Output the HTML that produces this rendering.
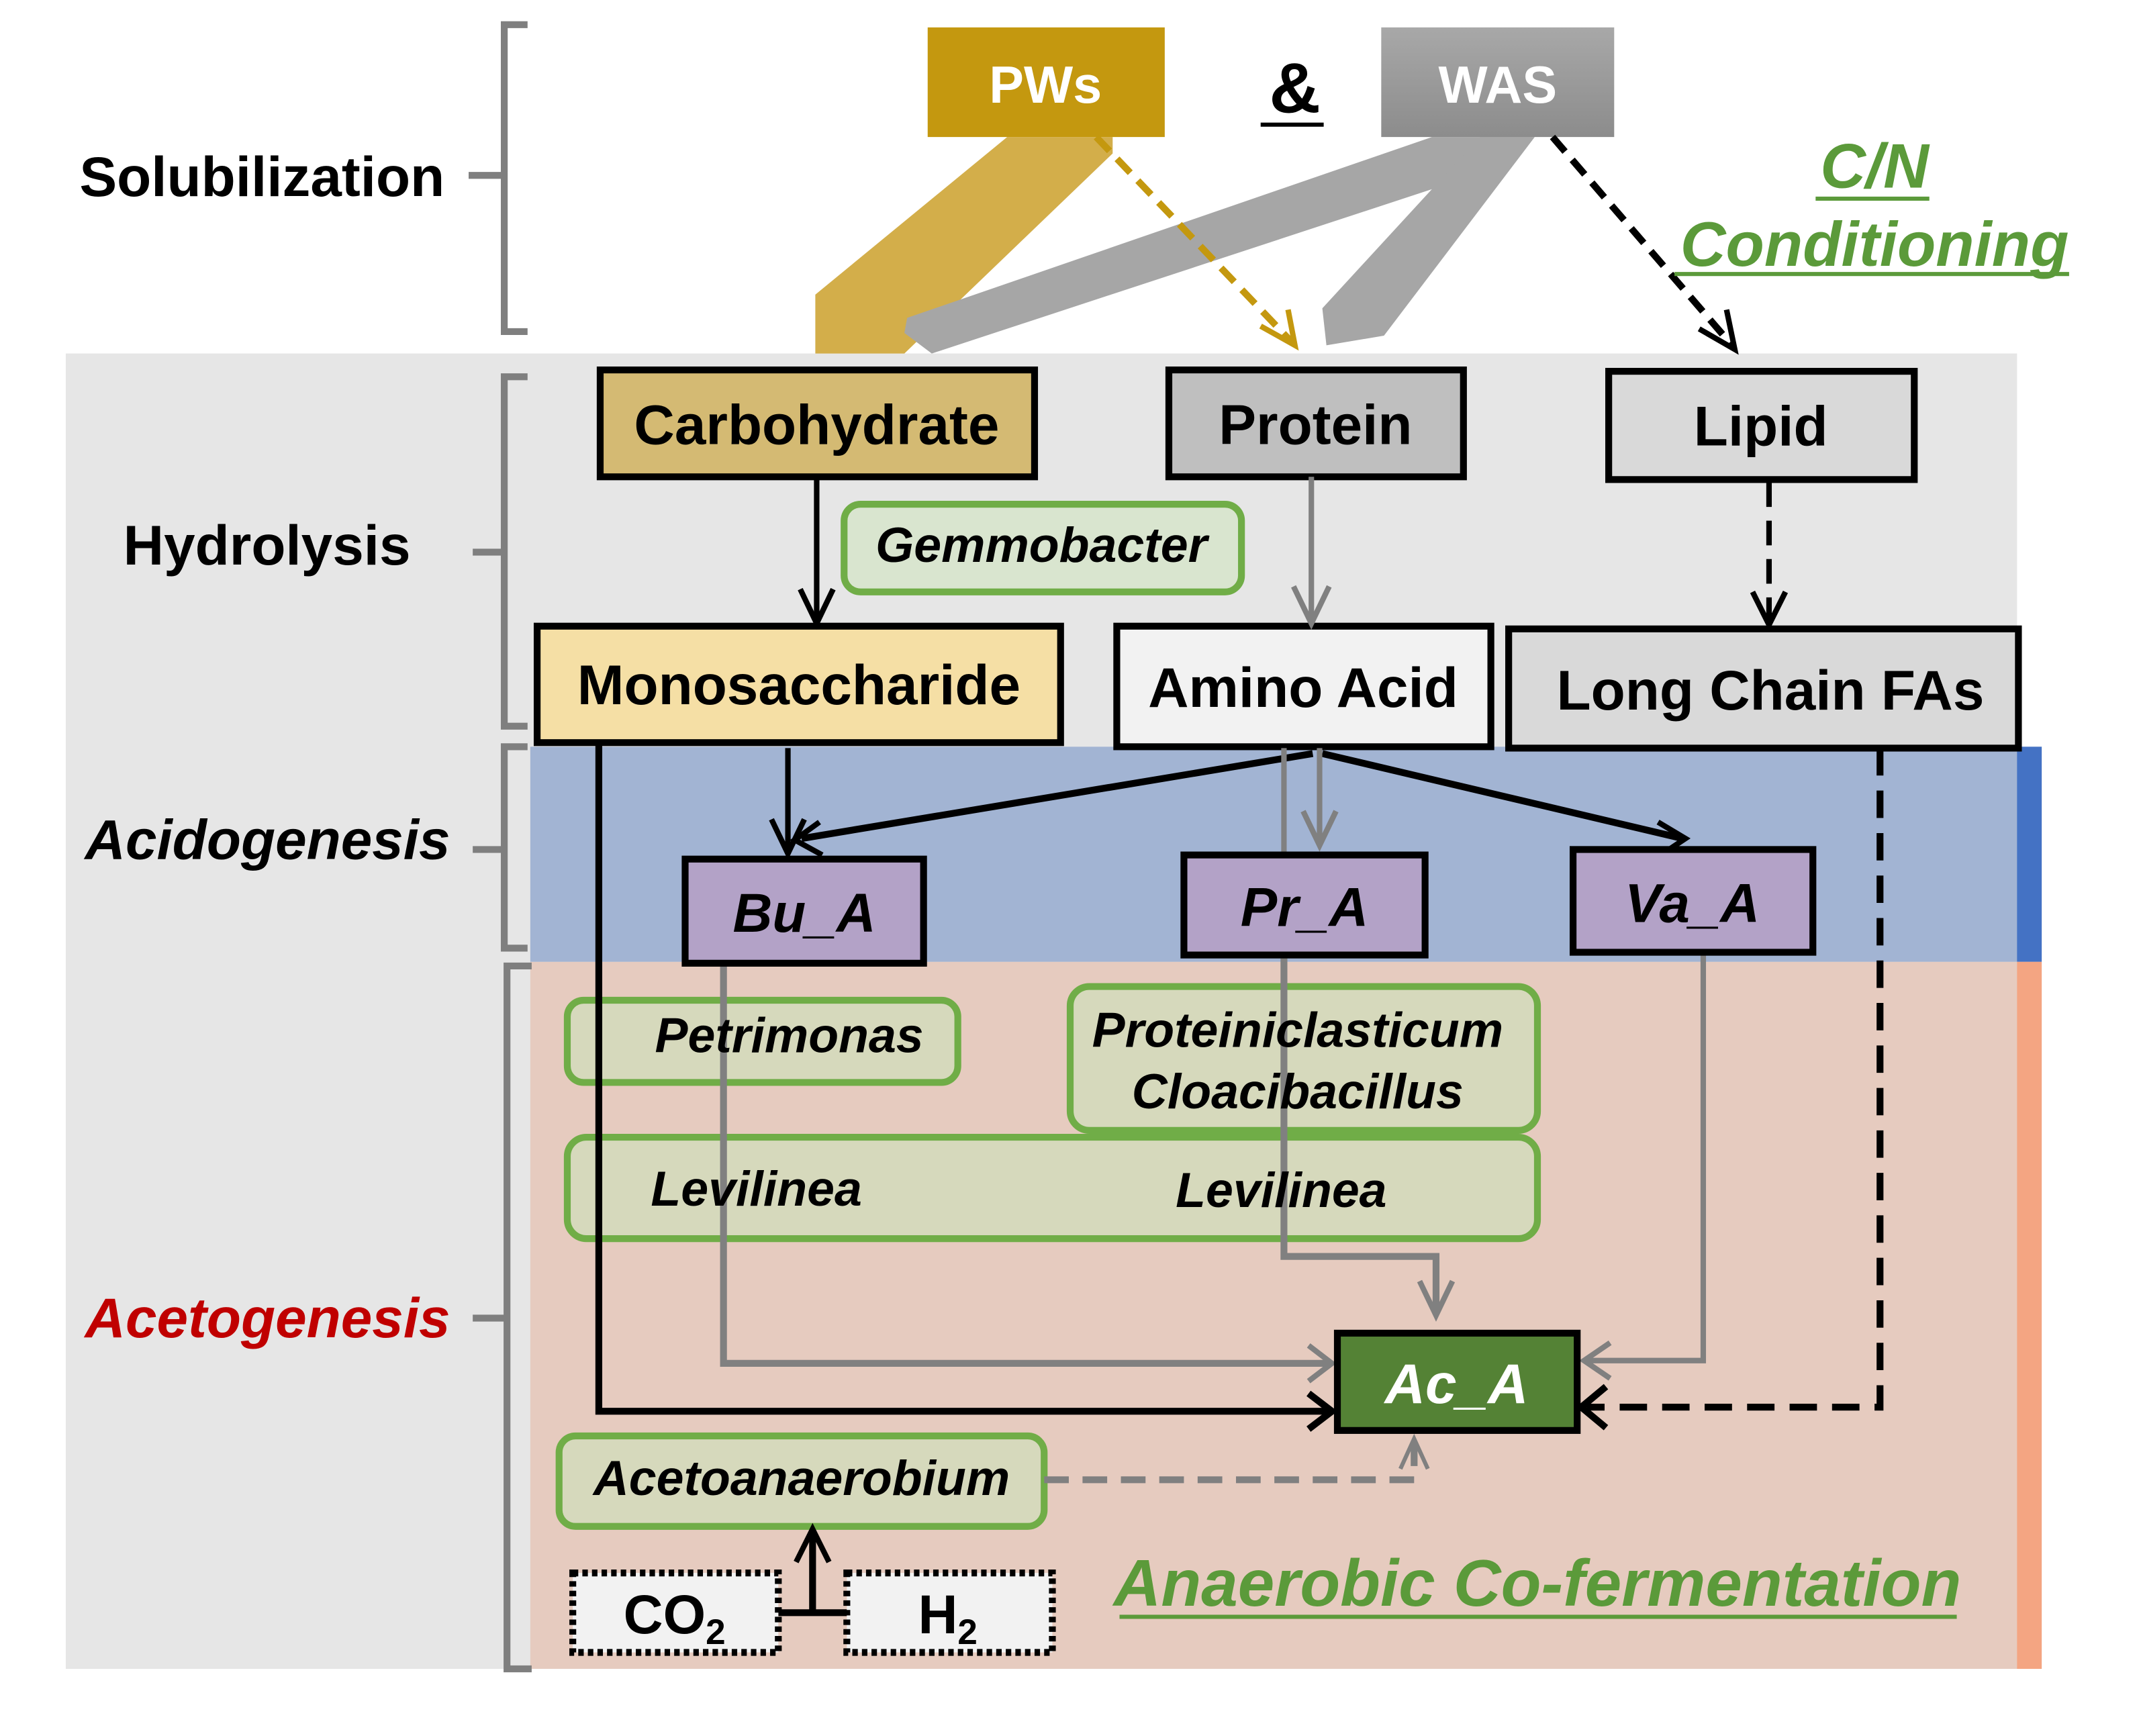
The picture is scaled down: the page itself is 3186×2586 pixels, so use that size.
<!DOCTYPE html>
<html><head><meta charset="utf-8">
<style>
html,body{margin:0;padding:0;background:#fff;}
svg{display:block;}
text{font-family:"Liberation Sans",Arial,sans-serif;font-weight:bold;}
</style></head>
<body>
<svg width="3186" height="2586" viewBox="0 0 1561 1267" preserveAspectRatio="none" xmlns="http://www.w3.org/2000/svg">
<defs>
<linearGradient id="wasg" x1="0" y1="0" x2="0" y2="1"><stop offset="0" stop-color="#a8a8a8"/><stop offset="1" stop-color="#8c8c8c"/></linearGradient>
</defs>
<rect width="1561" height="1267" fill="#fff"/>
<rect x="48" y="258" width="1424" height="960" fill="#e6e6e6"/>
<rect x="387" y="545" width="1103" height="157" fill="#a2b4d3"/>
<rect x="1472" y="545" width="18" height="157" fill="#4472c4"/>
<rect x="387" y="702" width="1103" height="516" fill="#e6cbbf"/>
<rect x="1472" y="702" width="18" height="516" fill="#f4a582"/>

<g fill="none" stroke="#7f7f7f" stroke-width="5">
<path d="M385,18 H368 V242 H385 M368,128 H342"/>
<path d="M385,275 H368 V530 H385 M368,403 H345"/>
<path d="M385,545 H368 V692 H385 M368,620 H345"/>
<path d="M388,705 H370 V1218 H388 M370,962 H345"/>
</g>
<text x="58" y="143" font-size="41" fill="#000">Solubilization</text>
<text x="90" y="412" font-size="41" fill="#000">Hydrolysis</text>
<text x="62" y="627" font-size="41" font-style="italic" fill="#000">Acidogenesis</text>
<text x="62" y="976" font-size="41" font-style="italic" fill="#c00000">Acetogenesis</text>

<polygon points="735,100 812,100 812,112 660,258 595,258 595,215" fill="#d3ae4a"/>
<polygon points="1045,100 1118,100 1100,120 680,258 660,243 662,232" fill="#a6a6a6"/>
<polygon points="1080,100 1120,100 1010,245 968,252 965,225" fill="#a6a6a6"/>
<rect x="677" y="20" width="173" height="80" fill="#c4980f"/>
<rect x="1008" y="20" width="170" height="80" fill="url(#wasg)"/>
<text x="763" y="75" font-size="38" fill="#fff" text-anchor="middle">PWs</text>
<text x="1093" y="75" font-size="38" fill="#fff" text-anchor="middle">WAS</text>
<text x="945" y="82" font-size="52" fill="#000" text-anchor="middle">&amp;</text>
<line x1="920" y1="91" x2="966" y2="91" stroke="#000" stroke-width="3"/>
<path d="M800,100 L943,250" stroke="#c4980f" stroke-width="5" stroke-dasharray="14,8" fill="none"/>
<path d="M920,238 L945,252 L940,226" fill="none" stroke="#c4980f" stroke-width="4"/>
<path d="M1133,100 L1264,252" stroke="#000" stroke-width="5" stroke-dasharray="14,8" fill="none"/>
<path d="M1240,240 L1266,255 L1260,226" fill="none" stroke="#000" stroke-width="4"/>
<text x="1368" y="137" font-size="46" font-style="italic" fill="#5b9a3a" text-anchor="middle">C/N</text>
<line x1="1325" y1="145" x2="1408" y2="145" stroke="#5b9a3a" stroke-width="3"/>
<text x="1368" y="194" font-size="46" font-style="italic" fill="#5b9a3a" text-anchor="middle">Conditioning</text>
<line x1="1222" y1="200" x2="1510" y2="200" stroke="#5b9a3a" stroke-width="3"/>

<g stroke="#000" stroke-width="5">
<rect x="438" y="270" width="317" height="78" fill="#d4ba73"/>
<rect x="853" y="270" width="215" height="78" fill="#bfbfbf"/>
<rect x="1174" y="271" width="223" height="79" fill="#d9d9d9"/>
<rect x="392" y="457" width="382" height="85" fill="#f5dfa5"/>
<rect x="815" y="457" width="273" height="88" fill="#f2f2f2"/>
<rect x="1101" y="459" width="372" height="87" fill="#d9d9d9"/>
</g>
<text x="596" y="324" font-size="41" text-anchor="middle">Carbohydrate</text>
<text x="960" y="324" font-size="41" text-anchor="middle">Protein</text>
<text x="1285" y="325" font-size="41" text-anchor="middle">Lipid</text>
<text x="583" y="514" font-size="41" text-anchor="middle">Monosaccharide</text>
<text x="951" y="516" font-size="41" text-anchor="middle">Amino Acid</text>
<text x="1292" y="518" font-size="41" text-anchor="middle">Long Chain FAs</text>
<rect x="616" y="368" width="290" height="64" rx="12" fill="#d9e5cf" stroke="#70ad47" stroke-width="5"/>
<text x="760" y="410" font-size="36" font-style="italic" text-anchor="middle">Gemmobacter</text>

<line x1="596" y1="348" x2="596" y2="452" stroke="#000" stroke-width="4"/>
<path d="M584,430 L596,455 L608,430" fill="none" stroke="#000" stroke-width="4"/>
<line x1="957" y1="348" x2="957" y2="452" stroke="#808080" stroke-width="4"/>
<path d="M944,428 L957,455 L970,428" fill="none" stroke="#808080" stroke-width="4"/>
<line x1="1291" y1="352" x2="1291" y2="454" stroke="#000" stroke-width="4" stroke-dasharray="18,10"/>
<path d="M1279,432 L1291,456 L1303,432" fill="none" stroke="#000" stroke-width="4"/>

<g fill="#d6d9bc" stroke="#70ad47" stroke-width="5">
<rect x="414" y="730" width="285" height="60" rx="12"/>
<rect x="781" y="720" width="341" height="105" rx="14"/>
<rect x="414" y="830" width="708" height="74" rx="14"/>
<rect x="408" y="1048" width="354" height="66" rx="12"/>
</g>

<line x1="575" y1="546" x2="575" y2="620" stroke="#000" stroke-width="4"/>
<path d="M563,598 L575,623 L587,598" fill="none" stroke="#000" stroke-width="4"/>
<line x1="958" y1="550" x2="585" y2="612" stroke="#000" stroke-width="5"/>
<path d="M598,600 L580,613 L600,624" fill="none" stroke="#000" stroke-width="4"/>
<line x1="965" y1="550" x2="1228" y2="612" stroke="#000" stroke-width="5"/>
<path d="M1210,600 L1230,612 L1212,624" fill="none" stroke="#000" stroke-width="4"/>
<line x1="937" y1="546" x2="937" y2="627" stroke="#808080" stroke-width="4"/>
<line x1="963" y1="546" x2="963" y2="614" stroke="#808080" stroke-width="4"/>
<path d="M951,592 L963,617 L975,592" fill="none" stroke="#808080" stroke-width="4"/>

<path d="M437,542 V1030 H970" fill="none" stroke="#000" stroke-width="5"/>
<path d="M955,1017 L972,1030 L955,1043" fill="none" stroke="#000" stroke-width="5"/>
<path d="M528,703 V995 H970" fill="none" stroke="#808080" stroke-width="5"/>
<path d="M955,982 L972,995 L955,1008" fill="none" stroke="#808080" stroke-width="4"/>
<path d="M937,697 V917 H1048 V958" fill="none" stroke="#808080" stroke-width="5"/>
<path d="M1036,935 L1048,960 L1060,935" fill="none" stroke="#808080" stroke-width="4"/>
<path d="M1243,695 V993 H1158" fill="none" stroke="#808080" stroke-width="4"/>
<path d="M1175,980 L1156,993 L1175,1006" fill="none" stroke="#808080" stroke-width="4"/>
<path d="M1372,546 V1027 H1158" fill="none" stroke="#000" stroke-width="5" stroke-dasharray="20,11"/>
<path d="M1172,1012 L1154,1027 L1172,1042" fill="none" stroke="#000" stroke-width="5"/>
<path d="M762,1080 H1032 V1052" fill="none" stroke="#808080" stroke-width="5" stroke-dasharray="18,10"/>
<path d="M1022,1072 L1032,1050 L1042,1072" fill="none" stroke="#808080" stroke-width="3"/>

<g stroke="#000" stroke-width="5" fill="#b3a2c7">
<rect x="500" y="627" width="174" height="76"/>
<rect x="864" y="624" width="176" height="73"/>
<rect x="1148" y="620" width="175" height="75"/>
</g>
<text x="587" y="680" font-size="40" font-style="italic" text-anchor="middle">Bu_A</text>
<text x="952" y="676" font-size="40" font-style="italic" text-anchor="middle">Pr_A</text>
<text x="1235" y="673" font-size="40" font-style="italic" text-anchor="middle">Va_A</text>

<text x="576" y="768" font-size="36" font-style="italic" text-anchor="middle">Petrimonas</text>
<text x="947" y="764" font-size="36" font-style="italic" text-anchor="middle">Proteiniclasticum</text>
<text x="947" y="809" font-size="36" font-style="italic" text-anchor="middle">Cloacibacillus</text>
<text x="552" y="880" font-size="36" font-style="italic" text-anchor="middle">Levilinea</text>
<text x="935" y="881" font-size="36" font-style="italic" text-anchor="middle">Levilinea</text>
<text x="585" y="1091" font-size="36" font-style="italic" text-anchor="middle">Acetoanaerobium</text>

<rect x="976" y="973" width="175" height="71" fill="#548235" stroke="#000" stroke-width="5"/>
<text x="1063" y="1024" font-size="41" font-style="italic" fill="#fff" text-anchor="middle">Ac_A</text>

<path d="M568,1177 H618 M593,1177 V1120" stroke="#000" stroke-width="5" fill="none"/>
<path d="M581,1140 L593,1116 L605,1140" fill="none" stroke="#000" stroke-width="4"/>
<rect x="418" y="1148" width="150" height="58" fill="#f2f2f2" stroke="#000" stroke-width="5" stroke-dasharray="4,3"/>
<rect x="618" y="1148" width="150" height="58" fill="#f2f2f2" stroke="#000" stroke-width="5" stroke-dasharray="4,3"/>
<text x="455" y="1192" font-size="40">CO<tspan font-size="26" dy="8">2</tspan></text>
<text x="670" y="1192" font-size="40">H<tspan font-size="26" dy="8">2</tspan></text>

<text x="1122" y="1172" font-size="48" font-style="italic" fill="#5b9a3a" text-anchor="middle">Anaerobic Co-fermentation</text>
<line x1="817" y1="1180" x2="1428" y2="1180" stroke="#5b9a3a" stroke-width="3"/>
</svg>
</body></html>
